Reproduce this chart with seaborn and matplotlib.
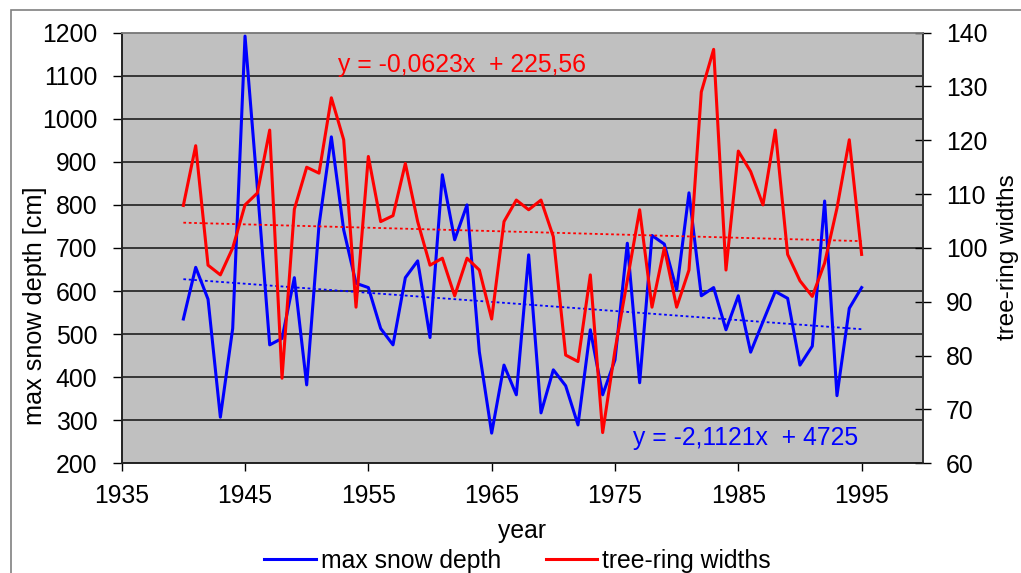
import numpy as np
import pandas as pd
import seaborn as sns
import matplotlib.pyplot as plt
from matplotlib.lines import Line2D
from matplotlib.patches import Rectangle

# values
years = list(range(1940, 1996))
snow_depth = [535, 655, 581, 307, 513, 1192, 840, 475, 490, 631,
              382, 753, 958, 742, 618, 608, 513, 475, 631, 670,
              492, 870, 719, 800, 459, 270, 428, 359, 684, 317,
              417, 380, 289, 510, 359, 440, 711, 387, 729, 709,
              602, 828, 589, 608, 510, 589, 458, 529, 599, 583,
              428, 472, 809, 357, 560, 608]
ring_width = [107.9, 119, 96.8, 95, 100, 108, 110.2, 121.9, 75.8, 107.2,
              115, 113.9, 127.9, 120.1, 89, 117, 104.9, 106, 115.7, 104.9,
              96.8, 98.1, 91.1, 98.1, 95.9, 86.8, 104.9, 108.9, 107.1, 108.9,
              102.1, 80.1, 78.9, 95, 65.7, 81, 94, 107.1, 89, 100,
              89, 95.9, 129, 136.9, 95.9, 118, 114.2, 108, 121.9, 98.8,
              93.9, 91, 97.2, 107.4, 120.1, 98.8]

# trend line equations printed on the chart
snow_fit = (-2.1121, 4725)
ring_fit = (-0.0623, 225.56)
snow_eq = "y = -2,1121x  + 4725"
ring_eq = "y = -0,0623x  + 225,56"

x_ticks = [1935, 1945, 1955, 1965, 1975, 1985, 1995]
left_ticks = list(range(200, 1201, 100))
right_ticks = list(range(60, 141, 10))

df = pd.DataFrame({"year": years, "snow": snow_depth, "ring": ring_width})
fit_years = np.array([years[0], years[-1]])
trend = pd.DataFrame({
    "year": fit_years,
    "snow": snow_fit[0] * fit_years + snow_fit[1],
    "ring": ring_fit[0] * fit_years + ring_fit[1],
})

plt.rcParams['font.family'] = ['Liberation Sans', 'DejaVu Sans']
fs = 17.8
blue = "#0000ff"
red = "#ff0000"

fig = plt.figure(figsize=(10.21, 5.73), dpi=100)
ax = fig.add_axes([0.1192, 0.1915, 0.7851, 0.7515])
ax.set_facecolor("#c0c0c0")
ax2 = ax.twinx()

sns.lineplot(data=df, x="year", y="snow", ax=ax, color=blue, lw=2.2)
sns.lineplot(data=trend, x="year", y="snow", ax=ax, color=blue, lw=1.3, linestyle=(0, (1.5, 1.5)))
sns.lineplot(data=df, x="year", y="ring", ax=ax2, color=red, lw=2.2)
sns.lineplot(data=trend, x="year", y="ring", ax=ax2, color=red, lw=1.3, linestyle=(0, (1.5, 1.5)))

ax.set_xlim(1935, 2000)
ax.set_ylim(200, 1200)
ax2.set_ylim(60, 140)
ax.set_xticks(x_ticks)
ax.set_yticks(left_ticks)
ax2.set_yticks(right_ticks)

ax.yaxis.grid(True, color="#1e1e1e", lw=1.2)
ax.set_axisbelow(True)

ax.tick_params(axis="y", direction="out", length=6.5, width=1, labelsize=fs, pad=11)
ax.tick_params(axis="x", direction="out", length=6, width=1, labelsize=fs, pad=9)
ax2.tick_params(axis="y", direction="inout", length=12, width=1, labelsize=fs, pad=10.5)

for a in (ax, ax2):
    a.spines["top"].set_color("#808080")
    a.spines["left"].set_color("#222222")
    a.spines["bottom"].set_color("#222222")
    a.spines["right"].set_color("#333333")
    for s in a.spines.values():
        s.set_linewidth(1.2)

ax.set_xlabel("year", fontsize=fs, labelpad=8)
ax.set_ylabel("max snow depth [cm]", fontsize=18.2)
ax.yaxis.set_label_coords(-0.093, 0.365)
ax2.set_ylabel("tree-ring widths", fontsize=17.5)
ax2.yaxis.set_label_coords(1.0925, 0.479)

ax.text(1962.6, 1125, ring_eq, color=red, fontsize=fs, ha="center", va="center")
ax.text(1985.6, 259, snow_eq, color=blue, fontsize=fs, ha="center", va="center")

handles = [Line2D([], [], color=blue, lw=2.2), Line2D([], [], color=red, lw=2.2)]
fig.legend(handles, ["max snow depth", "tree-ring widths"], loc="center",
           bbox_to_anchor=(517.5 / 1021, 1 - 561 / 573), ncol=2, frameon=False,
           fontsize=fs, handlelength=2.1, handletextpad=0.2, columnspacing=1.8,
           borderaxespad=0, borderpad=0)

# outer chart border
fig.patches.append(Rectangle((11 / 1021, -0.1), 1.1, 1 - 10 / 573 + 0.1,
                             transform=fig.transFigure, fill=False,
                             ec="#808080", lw=1.2))

fig.savefig("out.png", dpi=100)
